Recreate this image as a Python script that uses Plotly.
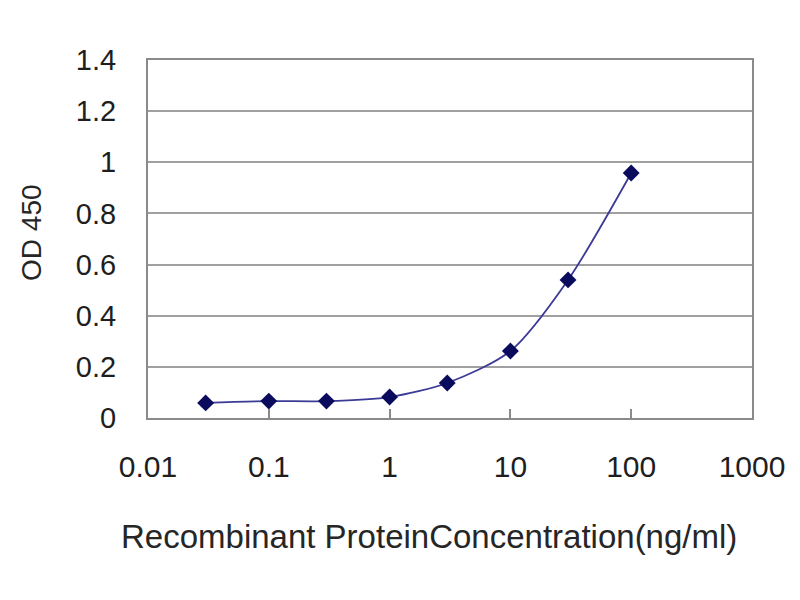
import plotly.graph_objects as go

# concentration (ng/ml) and OD450 readings
conc = [0.03, 0.1, 0.3, 1, 3, 10, 30, 100]
od450 = [0.059, 0.066, 0.066, 0.082, 0.137, 0.262, 0.54, 0.958]

x_ticks = [0.01, 0.1, 1, 10, 100, 1000]
x_labels = ["0.01", "0.1", "1", "10", "100", "1000"]
y_ticks = [0, 0.2, 0.4, 0.6, 0.8, 1, 1.2, 1.4]
y_labels = ["0", "0.2", "0.4", "0.6", "0.8", "1", "1.2", "1.4"]

font_name = "Liberation Sans, Arial, sans-serif"
grid_col = "#a0a0a0"
axis_col = "#8a8a8a"

fig = go.Figure()
fig.add_trace(go.Scatter(
    x=conc, y=od450, mode="lines+markers",
    line=dict(color="#3b3b96", width=1.8, shape="spline", smoothing=0.8),
    marker=dict(symbol="diamond", size=13, color="#0b0b5e"),
    showlegend=False,
))

fig.update_xaxes(
    type="log", range=[-2, 3],
    tickvals=x_ticks, ticktext=x_labels,
    showgrid=False, zeroline=False,
    showline=True, linecolor=axis_col, linewidth=2, mirror=True,
    ticks="inside", ticklen=9, tickwidth=2, tickcolor=axis_col,
    ticklabelstandoff=21,
    tickfont=dict(family=font_name, size=30, color="#1e1e1e"),
)
fig.update_yaxes(
    range=[0, 1.4],
    tickvals=y_ticks, ticktext=y_labels,
    showgrid=True, gridcolor=grid_col, gridwidth=2, zeroline=False,
    showline=True, linecolor=axis_col, linewidth=2, mirror=True,
    ticks="", ticklabelstandoff=24,
    tickfont=dict(family=font_name, size=29, color="#1e1e1e"),
)

# page is drawn ~8px in from the window edge, so margins are shifted to suit
fig.update_layout(
    width=800, height=600,
    margin=dict(l=140, r=56, t=52, b=190),
    paper_bgcolor="white", plot_bgcolor="white",
    annotations=[
        dict(text="Recombinant ProteinConcentration(ng/ml)",
             xref="paper", yref="paper", x=0.465, y=-0.332,
             xanchor="center", yanchor="middle", showarrow=False,
             font=dict(family=font_name, size=33, color="#262626")),
        dict(text="OD 450", textangle=-90,
             xref="paper", yref="paper", x=-0.192, y=0.517,
             xanchor="center", yanchor="middle", showarrow=False,
             font=dict(family=font_name, size=28, color="#262626")),
    ],
)

fig.write_html("out.html")
